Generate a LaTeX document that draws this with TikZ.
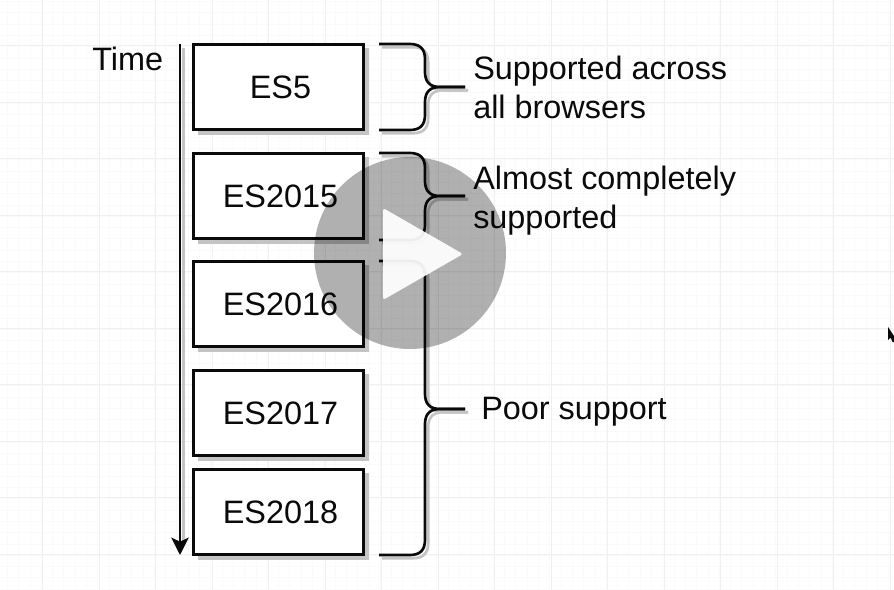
\documentclass[tikz,border=0pt]{standalone}
\usepackage{fontspec}
\setmainfont{Liberation Sans}
\usetikzlibrary{arrows.meta}
\definecolor{shadowgrey}{HTML}{C4C4C4}
\definecolor{gridminor}{HTML}{FAFAFA}
\definecolor{gridmajor}{HTML}{F0F0F0}
\definecolor{ink}{HTML}{0A0A0A}
\tikzset{
  x=0.75pt,y=-0.75pt,
  esbox/.style={draw=ink,line width=2.2pt,fill=white,minimum width=127pt,minimum height=63.5pt,inner sep=0pt,
    font=\fontsize{24.3}{29}\selectfont,text=ink},
  boxshadow/.style={fill=shadowgrey},
  lbl/.style={inner sep=0pt,font=\fontsize{24.3}{29}\selectfont,text=ink,align=left},
  bracestroke/.style={draw=ink,line width=2pt},
  braceshadow/.style={draw=shadowgrey,line width=2pt,transform canvas={shift={(2.4pt,-2.4pt)}}},
  timeline/.style={draw=ink,line width=2pt,-{Stealth[length=13pt,width=13pt,inset=3pt]}},
  axisshadow/.style={draw=shadowgrey,line width=2pt},
}
% #1 name, #2 centre y, #3 text
\newcommand{\esnode}[3]{%
  \fill[boxshadow] (198,{#2-39}) rectangle (369,{#2+48});
  \node[esbox] (#1) at (278.5,#2) {\hspace*{3pt}\raisebox{-1.5pt}{#3}};
}
% #1 free end, #2 tip end, #3 tip y, #4 top y, #5 bottom y
\newcommand{\fullbrace}[5]{%
  \foreach \sty in {braceshadow,bracestroke}{
    \draw[\sty] (#1) -- (410,#4) .. controls (420,#4) and (425,{#4+5}) .. (425,{#4+15})
      -- (425,{#3-15}) .. controls (425,{#3-5}) and (430,#3) .. (440,#3) -- (#2);
    \draw[\sty] (#2) -- (440,#3) .. controls (430,#3) and (425,{#3+5}) .. (425,{#3+15})
      -- (425,{#5-15}) .. controls (425,{#5-5}) and (420,#5) .. (410,#5) -- (379,#5);
  }
}
\begin{document}
\begin{tikzpicture}
\useasboundingbox (0,0) rectangle (894,590);
\fill[white] (0,0) rectangle (894,590);
% grid
\foreach \k in {0,...,79}{\draw[gridminor,line width=0.5pt] ({-4+11.3*\k},0) -- ({-4+11.3*\k},590);}
\foreach \k in {0,...,52}{\draw[gridminor,line width=0.5pt] (0,{1.5+11.3*\k}) -- (894,{1.5+11.3*\k});}
\foreach \k in {0,...,15}{\draw[gridmajor,line width=0.6pt] ({42.5+56.5*\k},0) -- ({42.5+56.5*\k},590);}
\foreach \k in {0,...,10}{\draw[gridmajor,line width=0.6pt] (0,{-11+56.5*\k}) -- (894,{-11+56.5*\k});}

% time axis
\coordinate (axistop) at (180,44);
\coordinate (axisbot) at (180,555);
\coordinate (axisshadowtop) at (183.5,48);
\coordinate (axisshadowbot) at (183.5,542);
\draw[axisshadow] (axisshadowtop) -- (axisshadowbot);
\draw[timeline] (axistop) -- (axisbot);
\node[lbl,anchor=base west] (time) at (92,70) {Time};

% boxes
\esnode{es5}{87}{ES5}
\esnode{es15}{196}{ES2015}
\esnode{es16}{304}{ES2016}
\esnode{es17}{413}{ES2017}
\esnode{es18}{512}{ES2018}

% braces
\coordinate (b1s) at (379,44);  \coordinate (b1t) at (465,87);
\coordinate (b2s) at (379,153); \coordinate (b2t) at (465,196);
\coordinate (b3s) at (379,261); \coordinate (b3t) at (465,409);
\fullbrace{b1s}{b1t}{87}{44}{130}
\fullbrace{b2s}{b2t}{196}{153}{240}
\fullbrace{b3s}{b3t}{409}{261}{555}

% labels
\node[lbl,anchor=base west] (l1) at (473,118) {Supported across\\all browsers};
\node[lbl,anchor=base west] (l2) at (473,228) {Almost completely\\supported};
\node[lbl,anchor=base west] (l3) at (481,419) {Poor support};

% play overlay
\fill[black,opacity=0.31] (410,253) circle (96);
\fill[white,opacity=0.93,rounded corners=2pt] (383,208) -- (463,254) -- (383,300) -- cycle;

% pointer
\fill[ink] (888,327) -- (888,340) -- (890.5,337.5) -- (892.5,342) -- (894,342) -- (894,336) -- cycle;
\end{tikzpicture}
\end{document}
